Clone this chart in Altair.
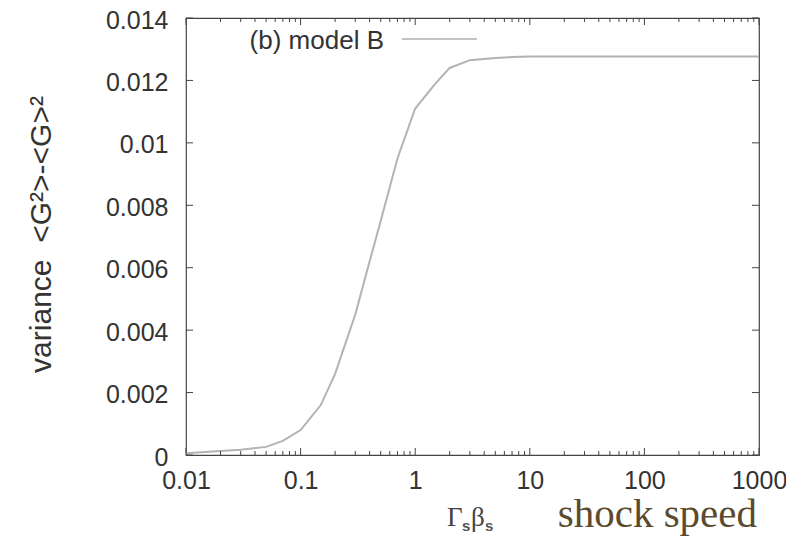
import altair as alt
import pandas as pd

# ---- data ----
speed = [0.01, 0.02, 0.03, 0.05, 0.07, 0.1, 0.15, 0.2, 0.3, 0.4, 0.5, 0.7, 1, 1.5,
         2, 3, 5, 7, 10, 20, 50, 100, 200, 500, 1000]
variance = [0.00006, 0.00013, 0.00017, 0.00026, 0.00045, 0.0008, 0.0016, 0.0026,
            0.0045, 0.0062, 0.0075, 0.0095, 0.0111, 0.0119, 0.0124, 0.01265,
            0.01272, 0.01275, 0.01277, 0.01277, 0.01277, 0.01277, 0.01277,
            0.01277, 0.01277]

x_major = [0.01, 0.1, 1, 10, 100, 1000]
x_minor = [m * d for d in [0.01, 0.1, 1, 10, 100] for m in range(2, 10)]
y_major = [0, 0.002, 0.004, 0.006, 0.008, 0.01, 0.012, 0.014]

series_label = "(b) model B"
y_title = "variance\u00a0\u00a0<G²>-<G>²"

W, H = 573, 437
FONT = "Liberation Sans"

curve_df = pd.DataFrame({"x": speed, "y": variance})
xmaj_df = pd.DataFrame({"x": x_major})
xmin_df = pd.DataFrame({"x": x_minor})
ymaj_df = pd.DataFrame({"y": y_major})

x_scale = alt.Scale(type="log", domain=[0.01, 1000], nice=False)
y_scale = alt.Scale(domain=[0, 0.014], nice=False, zero=True)

x_axis = alt.Axis(values=x_major, format="~g", title=None, grid=False,
                  ticks=False, tickSize=0, domain=False, labelFont=FONT,
                  labelFontSize=25, labelColor="#333", labelPadding=13,
                  labelFlush=False, labelOverlap=False)
y_axis = alt.Axis(values=y_major, format="~g", title=y_title, grid=False,
                  ticks=False, tickSize=0, domain=False, labelFont=FONT,
                  labelFontSize=25, labelColor="#333", labelPadding=18,
                  labelOffset=2, labelFlush=False, labelOverlap=False,
                  titleFont=FONT, titleFontSize=30, titleFontWeight="normal",
                  titleColor="#333", titleX=-130, titleY=216,
                  titleAngle=270, titleBaseline="bottom", titleAlign="center")

line = alt.Chart(curve_df).mark_line(color="#b3b3b3", strokeWidth=2).encode(
    x=alt.X("x:Q", scale=x_scale, axis=x_axis),
    y=alt.Y("y:Q", scale=y_scale, axis=y_axis),
)

def xticks(df, y0, y1):
    return alt.Chart(df).mark_rule(color="#444", strokeWidth=1).encode(
        x=alt.X("x:Q", scale=x_scale, axis=x_axis), y=alt.value(y0), y2=alt.value(y1))

def yticks(df, x0, x1):
    return alt.Chart(df).mark_rule(color="#444", strokeWidth=1).encode(
        y=alt.Y("y:Q", scale=y_scale, axis=y_axis), x=alt.value(x0), x2=alt.value(x1))

ticks = [
    xticks(xmaj_df, H, H - 7), xticks(xmin_df, H, H - 4),
    xticks(xmaj_df, 0, 7), xticks(xmin_df, 0, 4),
    yticks(ymaj_df, 0, 7), yticks(ymaj_df, W, W - 7),
]

legend_text = alt.Chart(pd.DataFrame({"t": [series_label]})).mark_text(
    font=FONT, fontSize=26, color="#333", align="right", baseline="middle"
).encode(text="t:N", x=alt.value(198), y=alt.value(23))

legend_line = alt.Chart(pd.DataFrame({"t": [series_label]})).mark_rule(
    color="#888", strokeWidth=1.2
).encode(x=alt.value(216), x2=alt.value(291), y=alt.value(21))

def label(txt, x, y, font, size, color, align="left", weight="normal"):
    return alt.Chart(pd.DataFrame({"t": [txt]})).mark_text(
        font=font, fontSize=size, color=color, align=align, baseline="alphabetic",
        fontWeight=weight
    ).encode(text="t:N", x=alt.value(x), y=alt.value(y))

xlab = [
    label("Γ", 261, 508, "Liberation Serif", 27, "#444"),
    label("s", 276, 513, FONT, 15, "#555", weight="bold"),
    label("β", 285, 508, "Liberation Serif", 27, "#444"),
    label("s", 299, 513, FONT, 15, "#555", weight="bold"),
    label("shock speed", 571, 509, "Liberation Serif", 41, "#5c4a2e", align="right"),
]

chart = alt.layer(line, *ticks, legend_line, legend_text, *xlab).properties(
    width=W, height=H,
    padding={"left": 178, "top": 10, "right": 27, "bottom": 84},
    autosize=alt.AutoSizeParams(type="none"),
    background="white",
).configure_view(stroke="#444", strokeWidth=1.2)

chart.save("out.html", embed_options={"renderer": "svg", "actions": False})
